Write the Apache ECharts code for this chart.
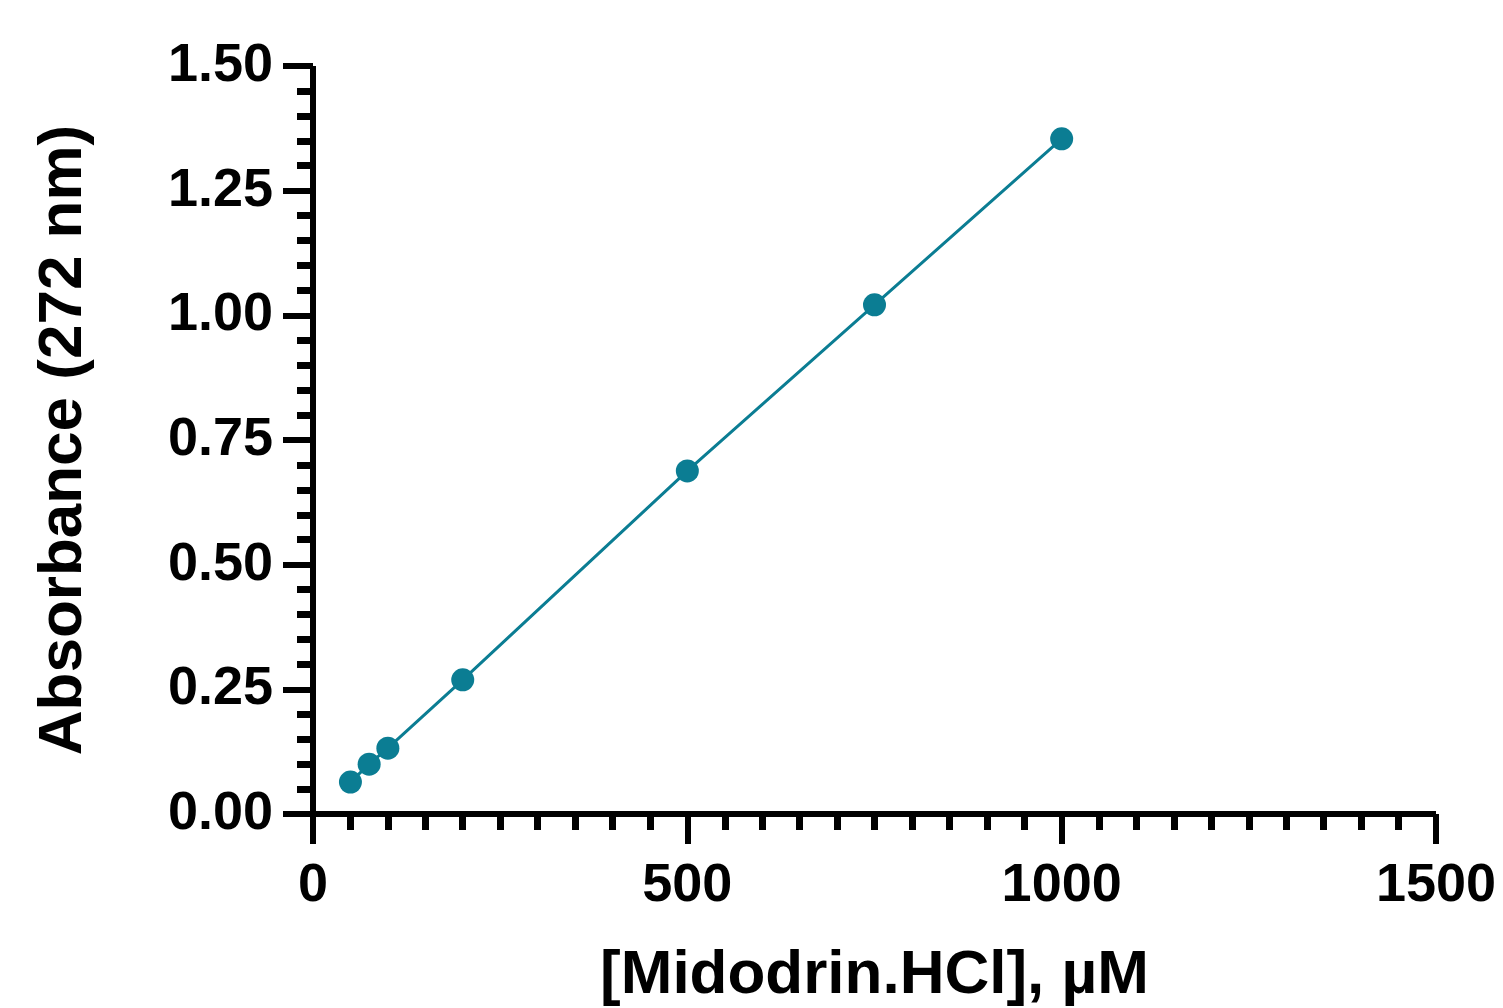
<!DOCTYPE html>
<html>
<head>
<meta charset="utf-8">
<title>Absorbance vs Midodrin.HCl</title>
<script src="https://cdn.jsdelivr.net/npm/echarts@6/dist/echarts.min.js"></script>
<style>
  html, body { margin: 0; padding: 0; background: #fff; }
  #chart { width: 1503px; height: 1008px; }
</style>
</head>
<body>
<div id="chart"></div>
<script>
// concentration (µM) and measured absorbance at 272 nm
const concentration = [50, 75, 100, 200, 500, 750, 1000];
const absorbance = [0.064, 0.100, 0.132, 0.269, 0.688, 1.021, 1.354];

const xTitle = '[Midodrin.HCl], µM';
const yTitle = 'Absorbance (272 nm)';

const ink = '#000';
const teal = '#0B7D93';
const font = '"Liberation Sans", Arial, sans-serif';

const chart = echarts.init(document.getElementById('chart'));

function axisStyle(minorSplits) {
  return {
    axisLine: { show: true, lineStyle: { color: ink, width: 6, cap: 'butt' } },
    axisTick: { show: true, inside: false, length: 30, lineStyle: { color: ink, width: 6 } },
    minorTick: {
      show: true,
      splitNumber: minorSplits,
      length: 16,
      lineStyle: { color: ink, width: 7 }
    },
    splitLine: { show: false },
    minorSplitLine: { show: false },
    nameLocation: 'middle',
    nameTextStyle: { fontFamily: font, fontWeight: 'bold', fontSize: 62, color: ink }
  };
}

const option = {
  animation: false,
  backgroundColor: '#fff',
  grid: {
    left: 313,
    right: 67,
    top: 66,
    bottom: 194,
    containLabel: false,
    outerBoundsMode: 'none'
  },
  xAxis: {
    ...axisStyle(10),
    type: 'value',
    min: 0,
    max: 1500,
    interval: 500,
    name: xTitle,
    nameGap: 131,
    axisLabel: {
      margin: 45,
      fontFamily: font,
      fontWeight: 'bold',
      fontSize: 54,
      color: ink,
      formatter: (v) => String(v)
    }
  },
  yAxis: {
    ...axisStyle(5),
    type: 'value',
    min: 0,
    max: 1.5,
    interval: 0.25,
    name: yTitle,
    nameGap: 218,
    axisLabel: {
      margin: 40,
      fontFamily: font,
      fontWeight: 'bold',
      fontSize: 54,
      color: ink,
      formatter: (v) => v.toFixed(2)
    }
  },
  series: [
    {
      type: 'line',
      data: concentration.map((c, i) => [c, absorbance[i]]),
      symbol: 'circle',
      symbolSize: 23,
      showAllSymbol: true,
      lineStyle: { color: teal, width: 3 },
      itemStyle: { color: teal }
    }
  ]
};

chart.setOption(option);
</script>
</body>
</html>
